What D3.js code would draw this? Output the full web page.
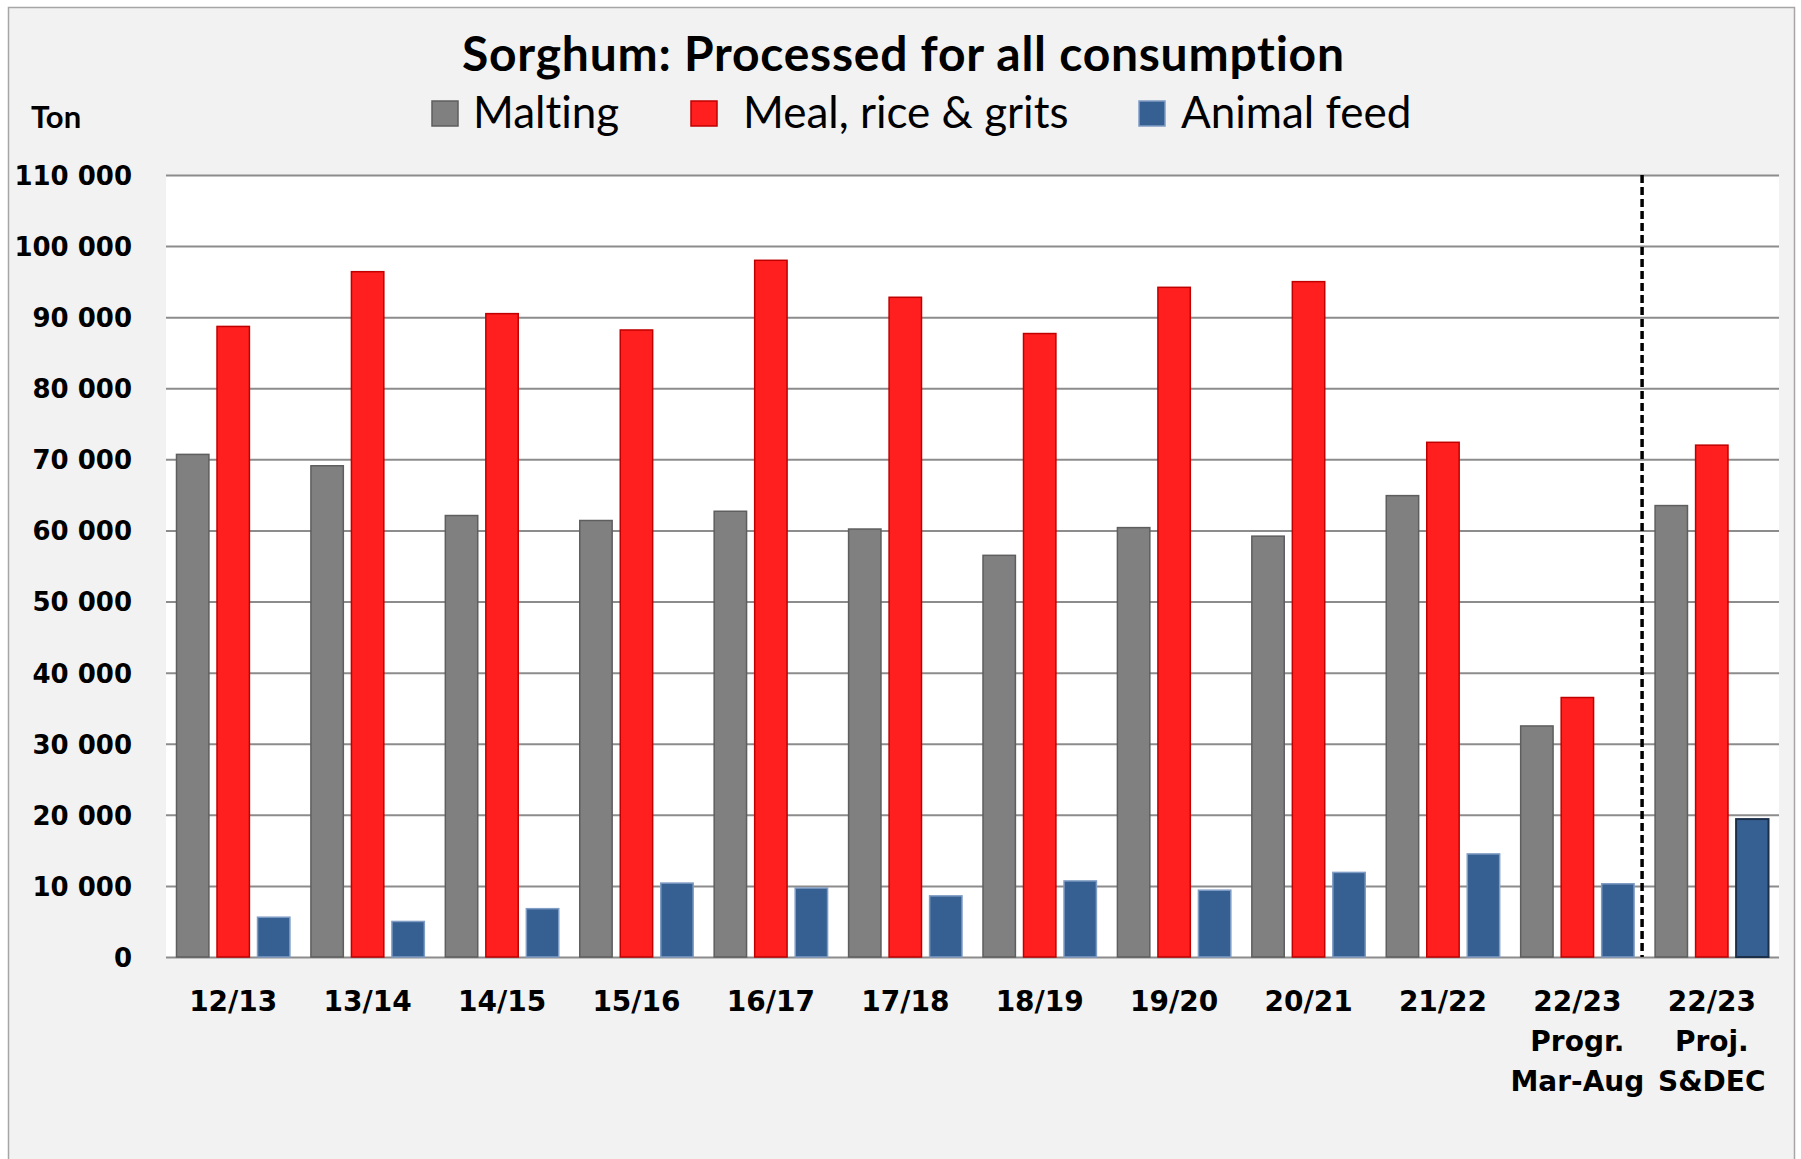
<!DOCTYPE html>
<html>
<head>
<meta charset="utf-8">
<script src="https://cdn.jsdelivr.net/npm/d3@7"></script>
<style>
  html, body { margin: 0; padding: 0; background: #ffffff; }
  svg { display: block; }
  text { font-variant-ligatures: none; }
</style>
</head>
<body>
<div id="chart-container"></div>
<script>
// chart data
const categories = ["12/13", "13/14", "14/15", "15/16", "16/17", "17/18", "18/19", "19/20", "20/21", "21/22", "22/23 Progr. Mar-Aug", "22/23 Proj. S&DEC"];
const categoryLines = [["12/13"], ["13/14"], ["14/15"], ["15/16"], ["16/17"], ["17/18"], ["18/19"], ["19/20"], ["20/21"], ["21/22"], ["22/23", "Progr.", "Mar-Aug"], ["22/23", "Proj.", "S&DEC"]];
const seriesNames = ["Malting", "Meal, rice & grits", "Animal feed"];
const malting = [70700, 69100, 62100, 61400, 62700, 60200, 56500, 60400, 59200, 64900, 32500, 63500];
const mealRiceGrits = [88700, 96400, 90500, 88200, 98000, 92800, 87700, 94200, 95000, 72400, 36500, 72000];
const animalFeed = [5600, 5000, 6800, 10400, 9700, 8600, 10700, 9400, 11900, 14500, 10300, 19400];
const yTicks = [0, 10000, 20000, 30000, 40000, 50000, 60000, 70000, 80000, 90000, 100000, 110000];

const width = 1801;
const height = 1159;
const margin = ({top: 175, right: 22, bottom: 202, left: 166}); // plot area edges

const seriesValues = [malting, mealRiceGrits, animalFeed];
const fills = ["#808080", "#ff1f1f", "#376092"];
const strokes = ["#5e5e5e", "#c00000", "#7f9cc4"];

const chartData = categories.map((c, i) => ({
    name: c,
    lines: categoryLines[i],
    values: seriesNames.map((s, j) => ({ series: s, j, value: seriesValues[j][i], last: i === categories.length - 1 }))
}));

const svg = d3.select("#chart-container")
    .append("svg")
    .attr("width", width)
    .attr("height", height);

// outer frame
svg.append("rect")
    .attr("x", 8.5).attr("y", 7.5)
    .attr("width", 1786).attr("height", 1170)
    .attr("fill", "#f2f2f2")
    .attr("stroke", "#a6a6a6")
    .attr("stroke-width", 1.5);

const x = d3.scaleBand()
    .domain(categories)
    .range([margin.left, width - margin.right])
    .padding(0);

const xSub = d3.scaleBand()
    .domain(seriesNames)
    .range([10.5, x.bandwidth() - 10.5])
    .paddingInner(0.2)
    .paddingOuter(0);

const y = d3.scaleLinear()
    .domain([0, 110000])
    .range([height - margin.bottom, margin.top]);

// plot background
svg.append("rect")
    .attr("x", margin.left).attr("y", margin.top)
    .attr("width", width - margin.right - margin.left)
    .attr("height", y(0) - margin.top)
    .attr("fill", "#ffffff");

const fmt = v => d3.format(",")(v).replace(/,/g, " ");

// grid + y labels
const yAxis = g => g
    .attr("transform", `translate(${margin.left},0)`)
    .call(d3.axisLeft(y).tickValues(yTicks).tickSize(-(width - margin.right - margin.left)).tickPadding(34).tickFormat(fmt))
    .call(g => g.select(".domain").remove())
    .call(g => g.selectAll(".tick line").attr("stroke", "#8c8c8c").attr("stroke-width", 2))
    .call(g => g.selectAll(".tick text")
        .attr("fill", "#000")
        .attr("font-family", "'DejaVu Sans', Verdana, sans-serif")
        .attr("font-weight", "bold")
        .attr("font-size", 26)
        .attr("dy", "0.36em"));

svg.append("g").attr("class", "y-axis").call(yAxis);

// bars
svg.append("g")
    .attr("class", "bars")
    .selectAll("g")
    .data(chartData)
    .join("g")
    .attr("transform", d => `translate(${x(d.name)},0)`)
    .selectAll("rect")
    .data(d => d.values)
    .join("rect")
    .attr("x", d => xSub(d.series))
    .attr("y", d => y(d.value))
    .attr("width", xSub.bandwidth())
    .attr("height", d => y(0) - y(d.value))
    .attr("fill", d => fills[d.j])
    .attr("stroke", d => (d.last && d.j === 2) ? "#1c2f4a" : strokes[d.j])
    .attr("stroke-width", d => (d.last && d.j === 2) ? 2 : 1.5);

// divider between progress and projection
const divX = x(categories[categories.length - 1]) - 2.5;
svg.append("line")
    .attr("x1", divX).attr("x2", divX)
    .attr("y1", margin.top).attr("y2", y(0))
    .attr("stroke", "#000")
    .attr("stroke-width", 3.5)
    .attr("stroke-dasharray", "8,4");

// x labels
const xLabels = svg.append("g").attr("class", "x-axis")
    .selectAll("text")
    .data(chartData)
    .join("text")
    .attr("x", d => x(d.name) + x.bandwidth() / 2)
    .attr("y", 1011)
    .attr("text-anchor", "middle")
    .attr("font-family", "'DejaVu Sans', Verdana, sans-serif")
    .attr("font-weight", "bold")
    .attr("font-size", 28)
    .attr("fill", "#000");

xLabels.selectAll("tspan")
    .data(d => d.lines)
    .join("tspan")
    .attr("x", function() { return d3.select(this.parentNode).attr("x"); })
    .attr("dy", (d, i) => i === 0 ? 0 : 40)
    .text(d => d);

// title
svg.append("text")
    .attr("x", 903)
    .attr("y", 71)
    .attr("text-anchor", "middle")
    .attr("font-family", "Lato, 'Open Sans', sans-serif")
    .attr("font-weight", "bold")
    .attr("font-size", 48)
    .attr("textLength", 882)
    .attr("lengthAdjust", "spacing")
    .attr("fill", "#000")
    .text("Sorghum: Processed for all consumption");

// unit label
svg.append("text")
    .attr("x", 31)
    .attr("y", 128)
    .attr("font-family", "Lato, 'Open Sans', sans-serif")
    .attr("font-weight", "bold")
    .attr("font-size", 31)
    .attr("fill", "#000")
    .text("Ton");

// legend
const legendX = [432, 691, 1139];
const legendTextX = [473, 743, 1181];
const legend = svg.append("g").attr("class", "legend")
    .selectAll("g")
    .data(seriesNames)
    .join("g");

legend.append("rect")
    .attr("x", (d, i) => legendX[i])
    .attr("y", 101)
    .attr("width", 26)
    .attr("height", 25)
    .attr("fill", (d, i) => fills[i])
    .attr("stroke", (d, i) => strokes[i])
    .attr("stroke-width", 1.5);

legend.append("text")
    .attr("x", (d, i) => legendTextX[i])
    .attr("y", 128)
    .attr("font-family", "Lato, 'Open Sans', sans-serif")
    .attr("font-size", 44)
    .attr("fill", "#000")
    .text(d => d);
</script>
</body>
</html>
